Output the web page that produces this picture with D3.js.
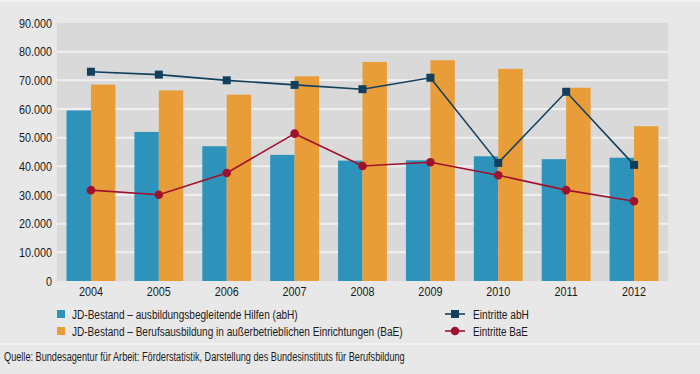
<!DOCTYPE html>
<html><head><meta charset="utf-8">
<script src="https://cdn.jsdelivr.net/npm/d3@7"></script>
<style>body{margin:0;background:#e8e8e8}svg{display:block}text{font-family:"Liberation Sans",sans-serif;fill:#1a1a1a}</style>
</head><body><svg id="c" width="700" height="374"></svg>
<script>
const years = ["2004","2005","2006","2007","2008","2009","2010","2011","2012"];
const bestandAbH = [59500,52000,47000,44000,42000,42100,43500,42500,43000];
const bestandBaE = [68500,66500,65000,71400,76400,77000,74000,67400,54000];
const eintritteAbH = [73000,72000,70000,68400,66900,70900,41200,66000,40500];
const eintritteBaE = [31700,30100,37700,51400,40100,41400,36900,31700,27800];
const yTicks = [0,10000,20000,30000,40000,50000,60000,70000,80000,90000];
const legendLabels = ["JD-Bestand – ausbildungsbegleitende Hilfen (abH)","JD-Bestand – Berufsausbildung in außerbetrieblichen Einrichtungen (BaE)","Eintritte abH","Eintritte BaE"];
const source = "Quelle: Bundesagentur für Arbeit: Förderstatistik, Darstellung des Bundesinstituts für Berufsbildung";

const C = {abh:"#2e93bb", bae:"#e99d38", lAbh:"#123f5e", lBae:"#a0112d"};
const FONT = '"Liberation Sans",sans-serif';
const SQUEEZE = 0.8;
const svg = d3.select("#c");
const m = {l:57, r:668, t:23, b:281};
svg.append("rect").attr("width",700).attr("height",374).attr("fill","#e8e8e8");
svg.append("rect").attr("width",700).attr("height",2).attr("fill","#f2f2f2");
svg.append("rect").attr("x",m.l).attr("y",m.t).attr("width",m.r-m.l).attr("height",m.b-m.t).attr("fill","#d9d9d9");

const x = d3.scaleBand().domain(years).range([m.l,m.r]).paddingInner(0.28).paddingOuter(0.14);
const x2 = d3.scaleBand().domain(["a","b"]).range([0,x.bandwidth()]);
const y = d3.scaleLinear().domain([0,90000]).range([m.b,m.t]);
const fmt = d => d3.format(",")(d).replace(/,/g,".");

function squeeze(sel){
  sel.each(function(){
    const w = this.getComputedTextLength();
    d3.select(this).attr("textLength", w*SQUEEZE).attr("lengthAdjust","spacingAndGlyphs");
  });
}
// text placed at (px,py), horizontally scaled so that it spans width w
function fitText(parent, px, py, str, size, w){
  const gg = parent.append("g");
  const t = gg.append("text").attr("x",0).attr("y",0).style("font-size",size+"px").text(str);
  const len = t.node().getComputedTextLength();
  gg.attr("transform",`translate(${px},${py}) scale(${w/len},1)`);
  return t;
}

// grid
svg.append("g").selectAll("line").data(yTicks.filter(d=>d>0 && d<90000)).join("line")
  .attr("x1",m.l).attr("x2",m.r).attr("y1",d=>y(d)).attr("y2",d=>y(d))
  .attr("stroke","#f0f0f0").attr("stroke-width",2);

// y axis
const ya = svg.append("g").attr("transform",`translate(${m.l},0)`)
  .call(d3.axisLeft(y).tickValues(yTicks).tickFormat(fmt).tickSize(0).tickPadding(5));
ya.select(".domain").remove();
ya.selectAll("text").style("font-family",FONT).style("font-size","13.5px").attr("fill","#1a1a1a").call(squeeze);

// x axis
const xa = svg.append("g").attr("transform",`translate(0,${m.b})`)
  .call(d3.axisBottom(x).tickSize(0).tickPadding(5));
xa.select(".domain").remove();
xa.selectAll("text").style("font-family",FONT).style("font-size","13.5px").attr("fill","#1a1a1a").call(squeeze);

// bars
const g = svg.append("g");
years.forEach((yr,i)=>{
  g.append("rect").attr("x",x(yr)+x2("a")).attr("width",x2.bandwidth()).attr("y",y(bestandAbH[i])).attr("height",y(0)-y(bestandAbH[i])).attr("fill",C.abh);
  g.append("rect").attr("x",x(yr)+x2("b")).attr("width",x2.bandwidth()).attr("y",y(bestandBaE[i])).attr("height",y(0)-y(bestandBaE[i])).attr("fill",C.bae);
});
const cx = yr => x(yr)+x.bandwidth()/2;
const line = d3.line().x((d,i)=>cx(years[i])).y(d=>y(d));
svg.append("path").datum(eintritteAbH).attr("d",line).attr("fill","none").attr("stroke",C.lAbh).attr("stroke-width",1.6);
svg.append("path").datum(eintritteBaE).attr("d",line).attr("fill","none").attr("stroke",C.lBae).attr("stroke-width",1.6);
svg.append("g").selectAll("rect").data(eintritteAbH).join("rect")
  .attr("x",(d,i)=>cx(years[i])-4).attr("y",d=>y(d)-4).attr("width",8).attr("height",8).attr("fill",C.lAbh);
svg.append("g").selectAll("circle").data(eintritteBaE).join("circle")
  .attr("cx",(d,i)=>cx(years[i])).attr("cy",d=>y(d)).attr("r",4.3).attr("fill",C.lBae);

// legend
const lg = svg.append("g");
const legW = [226,331,56,55];
[[C.abh,314],[C.bae,331]].forEach(([c,yy],i)=>{
  lg.append("rect").attr("x",57).attr("y",yy-4).attr("width",8).attr("height",8).attr("fill",c);
  fitText(lg, 72, yy+5, legendLabels[i], 13.5, legW[i]);
});
lg.append("line").attr("x1",445).attr("x2",465).attr("y1",314).attr("y2",314).attr("stroke",C.lAbh).attr("stroke-width",1.6);
lg.append("rect").attr("x",451).attr("y",310).attr("width",8).attr("height",8).attr("fill",C.lAbh);
fitText(lg, 473, 319, legendLabels[2], 13.5, legW[2]);
lg.append("line").attr("x1",445).attr("x2",465).attr("y1",331).attr("y2",331).attr("stroke",C.lBae).attr("stroke-width",1.6);
lg.append("circle").attr("cx",455).attr("cy",331).attr("r",4.3).attr("fill",C.lBae);
fitText(lg, 473, 336, legendLabels[3], 13.5, legW[3]);

svg.append("line").attr("x1",0).attr("x2",700).attr("y1",344).attr("y2",344).attr("stroke","#f4f4f4").attr("stroke-width",1.5);
fitText(svg, 4, 361, source, 12.5, 401);
</script></body></html>
